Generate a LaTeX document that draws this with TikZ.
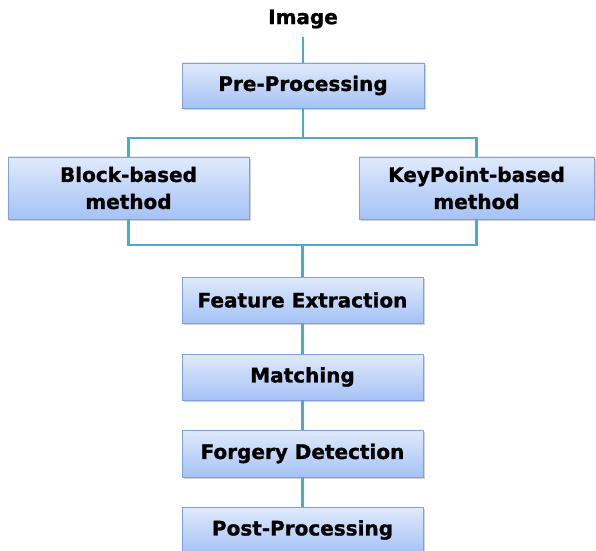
\documentclass[tikz,border=0pt]{standalone}
\usepackage{fontspec}
\setmainfont{DejaVu Sans}[BoldFeatures={FakeBold=1.2}]
\usetikzlibrary{shadows}
\definecolor{linkteal}{HTML}{4BACC6}
\definecolor{boxedge}{HTML}{7FA3D9}
\definecolor{boxtop}{HTML}{E0EAFC}
\definecolor{boxbottom}{HTML}{A5C2F5}
\tikzset{
  stepbox/.style={draw=boxedge, line width=0.8bp, top color=boxtop, bottom color=boxbottom,
    drop shadow={opacity=0.35, shadow xshift=1.5bp, shadow yshift=-2bp},
    minimum width=241bp, minimum height=46bp, inner sep=0pt,
    align=center, font=\bfseries\fontsize{20bp}{27bp}\selectfont},
  link/.style={draw=linkteal, line width=2.6bp},
  title/.style={font=\bfseries\fontsize{20bp}{24bp}\selectfont, inner sep=0pt}
}
\begin{document}
\begin{tikzpicture}[x=1bp, y=-1bp]
  \useasboundingbox (0,0) rectangle (596,551);
  \clip (0,0) rectangle (596,551);
  % input label
  \node[title] (img) at (303,19) {Image};
  % processing stages
  \node[stepbox, minimum width=242bp, minimum height=45bp] (pre) at (303,85.5) {Pre-Processing};
  \node[stepbox, minimum height=62bp] (block) at (128.5,188) {Block-based\\method};
  \node[stepbox, minimum width=235bp, minimum height=62bp] (key) at (476.5,188) {KeyPoint-based\\method};
  \node[stepbox] (feat) at (302.5,300) {Feature Extraction};
  \node[stepbox] (match) at (302.5,377) {Matching};
  \node[stepbox, minimum height=47bp] (forg) at (302.5,453.5) {Forgery Detection};
  \node[stepbox] (post) at (302.5,530) {Post-Processing};
  % branching and merging points
  \coordinate (imgfoot) at (303,37);
  \coordinate (split) at (303,138);
  \coordinate (merge) at (302.5,245);
  % connectors
  \draw[link] (imgfoot) -- (pre.north);
  \draw[link] (pre.south) -- (split);
  \draw[link] (block.north) |- (split) -| (key.north);
  \draw[link] (block.south) |- (merge) -| (key.south);
  \draw[link] (merge) -- (feat.north);
  \draw[link] (feat.south) -- (match.north);
  \draw[link] (match.south) -- (forg.north);
  \draw[link] (forg.south) -- (post.north);
\end{tikzpicture}
\end{document}
